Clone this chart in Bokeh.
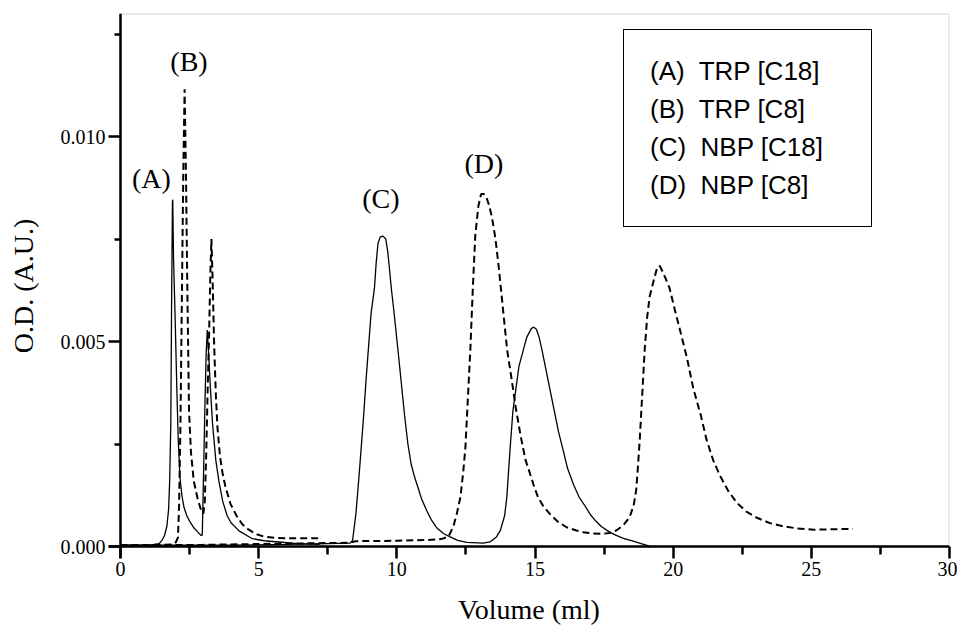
from bokeh.plotting import figure
from bokeh.models import (Legend, LegendItem, FixedTicker, NumeralTickFormatter, Range1d,
                          Span, BoxAnnotation)
from bokeh.core.properties import value
from bokeh.embed import file_html
from bokeh.resources import INLINE

# ---- data ----
# (A) TRP [C18] - solid
xA = [0, 1.0, 1.4, 1.5, 1.6, 1.68, 1.74, 1.78, 1.82, 1.85, 1.88, 1.89, 1.92, 1.98, 2.04, 2.09, 2.15,
      2.22, 2.3, 2.4, 2.5, 2.66, 2.8, 2.92, 2.96, 3.0, 3.06, 3.1, 3.14, 3.19, 3.25, 3.33, 3.45, 3.56,
      3.7, 3.86, 4.0, 4.29, 4.77, 5.2, 5.73, 6.4, 7.2]
yA = [0.00003, 0.00003, 0.00007, 0.00015, 0.00028, 0.0005, 0.0009, 0.0016, 0.0030, 0.0060, 0.0084,
      0.00846, 0.0070, 0.0055, 0.0038, 0.0026, 0.0017, 0.00125, 0.00095, 0.00075, 0.00062, 0.00045,
      0.00035, 0.00027, 0.00028, 0.0016, 0.0036, 0.0047, 0.00528, 0.0047, 0.0039, 0.0030, 0.0021,
      0.0016, 0.0011, 0.00075, 0.00058, 0.00038, 0.00019, 0.00014, 0.00011, 0.00007, 0.00005]

# (B) TRP [C8] - dashed
xB = [0, 1.0, 1.9, 2.0, 2.08, 2.12, 2.17, 2.22, 2.27, 2.32, 2.37, 2.42, 2.48, 2.55, 2.65, 2.78, 2.9,
      3.0, 3.05, 3.1, 3.16, 3.2, 3.25, 3.29, 3.33, 3.39, 3.45, 3.51, 3.6, 3.69, 3.8, 3.98, 4.2, 4.4,
      4.6, 4.88, 5.2, 5.6, 6.2, 7.3]
yB = [0.00003, 0.00003, 0.00005, 0.0001, 0.00022, 0.0010, 0.0030, 0.0060, 0.0090, 0.01115, 0.0090,
      0.0062, 0.0033, 0.0023, 0.0016, 0.0012, 0.00092, 0.0008, 0.0011, 0.0022, 0.0040, 0.0050,
      0.0066, 0.0075, 0.0066, 0.0049, 0.0037, 0.0029, 0.0022, 0.0018, 0.00145, 0.00104, 0.00075,
      0.00055, 0.00043, 0.00031, 0.00024, 0.00021, 0.0002, 0.0002]

# (C) NBP [C18] - solid
xC = [0, 4, 6, 7.5, 8.3, 8.4, 8.52, 8.63, 8.71, 8.8, 8.89, 8.98, 9.07, 9.19, 9.25, 9.32, 9.4, 9.5,
      9.6, 9.67, 9.73, 9.8, 9.9, 10.04, 10.16, 10.28, 10.4, 10.52, 10.64, 10.76, 10.9, 11.08, 11.25,
      11.44, 11.7, 11.91, 12.2, 12.53, 13.13, 13.4, 13.6, 13.75, 13.9, 13.98, 14.03, 14.1, 14.2,
      14.3, 14.42, 14.54, 14.7, 14.87, 14.96, 15.05, 15.15, 15.25, 15.4, 15.55, 15.7, 15.85, 16.0,
      16.18, 16.4, 16.6, 16.8, 17.0, 17.2, 17.4, 17.7, 17.94, 18.2, 18.55, 18.9, 19.15]
yC = [0.00003, 0.00003, 0.00005, 0.00007, 0.00008, 0.00015, 0.0008, 0.0017, 0.0024, 0.0032, 0.0041,
      0.0049, 0.0057, 0.0063, 0.0069, 0.0074, 0.00755, 0.00757, 0.0075, 0.0072, 0.0068, 0.0063,
      0.0057, 0.0048, 0.0040, 0.0032, 0.0025, 0.0020, 0.0017, 0.00145, 0.00115, 0.00088, 0.00065,
      0.00046, 0.00031, 0.00024, 0.00015, 0.0001, 0.00008, 0.00012, 0.00023, 0.0004, 0.00075,
      0.0012, 0.0017, 0.0024, 0.0033, 0.0038, 0.0044, 0.0047, 0.0051, 0.00532, 0.00535, 0.0053,
      0.0051, 0.0048, 0.0043, 0.0038, 0.0033, 0.0028, 0.0024, 0.0019, 0.0015, 0.0012, 0.0010,
      0.00078, 0.00062, 0.00049, 0.00035, 0.00027, 0.0002, 0.00013, 0.00006, 0.00001]

# (D) NBP [C8] - dashed
xD = [0, 3, 5, 7, 8.3, 8.5, 10, 11.1, 11.6, 11.87, 12.05, 12.17, 12.3, 12.4, 12.48, 12.57, 12.66,
      12.75, 12.84, 12.95, 13.05, 13.14, 13.25, 13.35, 13.45, 13.57, 13.69, 13.84, 13.99, 14.15,
      14.3, 14.48, 14.66, 14.81, 14.95, 15.11, 15.3, 15.53, 15.8, 16.14, 16.5, 16.74, 17.1, 17.46,
      17.7, 17.94, 18.2, 18.42, 18.57, 18.66, 18.72, 18.79, 18.88, 18.97, 19.06, 19.15, 19.3, 19.42,
      19.51, 19.62, 19.75, 19.87, 20.05, 20.24, 20.5, 20.73, 21.0, 21.21, 21.45, 21.7, 22.0, 22.3,
      22.65, 23.03, 23.5, 24.0, 24.5, 25.1, 25.8, 26.5]
yD = [0.00003, 0.00004, 0.00006, 0.00008, 0.00009, 0.00013, 0.00014, 0.00016, 0.00018, 0.00024,
      0.0005, 0.0008, 0.0012, 0.0018, 0.0024, 0.0036, 0.0048, 0.0063, 0.0076, 0.0083, 0.0086,
      0.0086, 0.0085, 0.0083, 0.0080, 0.0075, 0.0068, 0.0058, 0.0048, 0.0041, 0.0034, 0.0027,
      0.0021, 0.0018, 0.0015, 0.0012, 0.00098, 0.0008, 0.00062, 0.00047, 0.00039, 0.00035,
      0.00032, 0.00031, 0.00033, 0.00039, 0.00052, 0.00071, 0.001, 0.00137, 0.0019, 0.0026,
      0.0037, 0.0048, 0.0056, 0.0061, 0.0065, 0.0068, 0.00685, 0.0067, 0.0065, 0.0063, 0.0058,
      0.0053, 0.0046, 0.00385, 0.0032, 0.0026, 0.0021, 0.00172, 0.00135, 0.00107, 0.00085, 0.0007,
      0.00057, 0.00049, 0.00044, 0.00041, 0.00042, 0.00043]

legend_labels = ["(A)  TRP [C18]", "(B)  TRP [C8]", "(C)  NBP [C18]", "(D)  NBP [C8]"]
peak_tags = ["(A)", "(B)", "(C)", "(D)"]
peak_tag_x = [1.12, 2.48, 9.42, 13.15]
peak_tag_y = [0.00897, 0.01183, 0.00848, 0.00935]

x_ticks = [0, 5, 10, 15, 20, 25, 30]
x_minor = [2.5, 7.5, 12.5, 17.5, 22.5, 27.5]
y_ticks = [0.0, 0.005, 0.010]
y_minor = [0.0025, 0.0075, 0.0125]
X_MAX = 30
Y_MAX = 0.013

SERIF = "Liberation Serif"
SANS = "Liberation Sans"

# ---- layout (pixels) ----
FRAME_W, FRAME_H = 841, 545
B_LEFT, B_RIGHT, B_TOP, B_BOTTOM = 108, 8, 13, 70
TICK = 12   # outward major tick length; the axes sit this far inside the frame
x_start = -TICK * X_MAX / (FRAME_W - TICK)
y_start = -TICK * Y_MAX / (FRAME_H - TICK)

p = figure(frame_width=FRAME_W, frame_height=FRAME_H, output_backend="svg",
           toolbar_location=None,
           x_range=Range1d(x_start, X_MAX), y_range=Range1d(y_start, Y_MAX),
           min_border_left=B_LEFT, min_border_right=B_RIGHT,
           min_border_top=B_TOP, min_border_bottom=B_BOTTOM)
p.outline_line_color = None
p.xgrid.visible = False
p.ygrid.visible = False

# thin grey frame on top/right, like the original
p.add_layout(BoxAnnotation(left=0, right=X_MAX, bottom=0, top=Y_MAX, fill_alpha=0,
                           line_color="#7a7a7a", line_width=2))

dash = "7 4"
rA = p.line(xA, yA, line_color="black", line_width=1.3)
rB = p.line(xB, yB, line_color="black", line_width=2.0, line_dash=dash)
rC = p.line(xC, yC, line_color="black", line_width=1.3)
rD = p.line(xD, yD, line_color="black", line_width=2.0, line_dash=dash)

p.text(x=peak_tag_x, y=peak_tag_y, text=peak_tags, text_font=value(SERIF),
       text_font_size="28px", text_align="center", text_baseline="middle", text_color="black")

# black axis lines at x=0 and y=0
p.add_layout(Span(location=0, dimension="height", line_color="black", line_width=2.5))
p.add_layout(Span(location=0, dimension="width", line_color="black", line_width=2.5))

p.xaxis.ticker = FixedTicker(ticks=x_ticks, minor_ticks=x_minor)
p.yaxis.ticker = FixedTicker(ticks=y_ticks, minor_ticks=y_minor)
p.yaxis.formatter = NumeralTickFormatter(format="0.000")

for ax in p.axis:
    ax.axis_line_color = None
    ax.major_tick_line_color = "black"
    ax.major_tick_line_width = 2.5
    ax.minor_tick_line_color = "black"
    ax.minor_tick_line_width = 2.5
    ax.major_tick_in = TICK
    ax.major_tick_out = 0
    ax.minor_tick_in = TICK
    ax.major_label_text_font = SERIF
    ax.major_label_text_font_size = "20px"
    ax.major_label_text_color = "black"
    ax.axis_label_text_font = SERIF
    ax.axis_label_text_font_size = "28px"
    ax.axis_label_text_font_style = "normal"
    ax.axis_label_text_color = "black"

p.xaxis.minor_tick_out = -4
p.yaxis.minor_tick_out = -6
p.xaxis.major_label_standoff = 3
p.yaxis.major_label_standoff = 3
p.xaxis.axis_label = "Volume (ml)"
p.yaxis.axis_label = "O.D. (A.U.)"
p.xaxis.axis_label_standoff = 15
p.yaxis.axis_label_standoff = 19

legend = Legend(items=[LegendItem(label=lab, renderers=[r]) for lab, r in
                       zip(legend_labels, [rA, rB, rC, rD])],
                location=(515, 331), orientation="vertical",
                glyph_width=0, glyph_height=38, label_height=38, label_width=199,
                label_standoff=4, spacing=0, padding=22, margin=0,
                border_line_color="black", border_line_width=1.5, border_line_alpha=1,
                background_fill_color="white", background_fill_alpha=1,
                label_text_font=SANS, label_text_font_size="26px", label_text_color="black")
p.add_layout(legend)

open("out.html", "w").write(file_html(p, INLINE))
